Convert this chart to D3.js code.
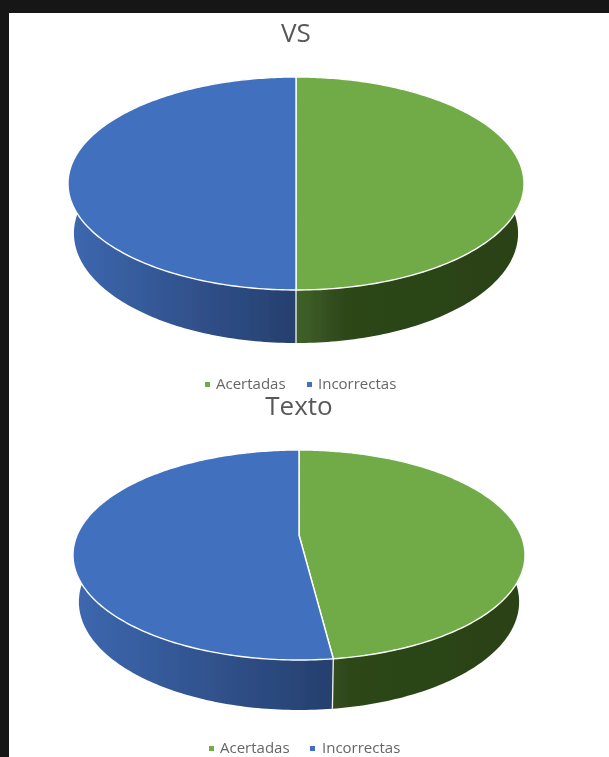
<!DOCTYPE html>
<html>
<head>
<meta charset="utf-8">
<script src="https://cdn.jsdelivr.net/npm/d3@7"></script>
<style>
  html, body { margin: 0; padding: 0; background: #fff; overflow: hidden; }
  text { font-family: "Open Sans", sans-serif; }
</style>
</head>
<body>
<script>
var width = 609;
var height = 757;

// values, percent of answers
var categories = ["Acertadas", "Incorrectas"];
var vsValues = [50, 50];
var textoValues = [48, 52];
var titles = ["VS", "Texto"];

var topColors = ["#6fab47", "#4170be"];
var wallStops = [
  [["0%", "#40622a"], ["22%", "#2d4619"], ["100%", "#2a4216"]],
  [["0%", "#3d68b0"], ["100%", "#263f6e"]]
];

// where each pie sits on the page
var layouts = [
  { cx: 296, rx: 228, top: 77, bottom: 290, apex: 162, depth: 53, titleY: 42, titleX: 296, titleSize: 26,
    legendY: 389, legendX: [216, 318], markX: [205, 307] },
  { cx: 299, rx: 226, top: 450, bottom: 660, apex: 535, depth: 50, titleY: 415, titleX: 299, titleSize: 26,
    legendY: 753, legendX: [220, 322], markX: [209, 310] }
];
// lower rim of the wall against the upper one
var lowerX = 0.974;
var lowerY = 1.03;

var svg = d3.select("body").append("svg")
  .attr("width", width)
  .attr("height", height)
  .style("display", "block");

var defs = svg.append("defs");
defs.append("filter").attr("id", "soft")
  .attr("x", "-5%").attr("y", "-5%").attr("width", "110%").attr("height", "110%")
  .append("feGaussianBlur").attr("stdDeviation", 0.6);

wallStops.forEach(function(stops, i) {
  defs.append("linearGradient").attr("id", "wall" + i)
    .selectAll("stop").data(stops).enter().append("stop")
    .attr("offset", function(d) { return d[0]; })
    .attr("stop-color", function(d) { return d[1]; });
});

// dark frame of the screenshot
svg.append("rect").attr("width", width).attr("height", 13).attr("fill", "#161616");
svg.append("rect").attr("width", 9).attr("height", height).attr("fill", "#161616");

var pie = d3.pie().sort(null);
var line = d3.line();

// rim of a tilted disc seen in perspective, angle runs clockwise from the top
function projector(l) {
  var up = l.apex - l.top, down = l.bottom - l.apex;
  var k = (down - up) / (down + up);
  var b = down * (1 - k);
  var a = l.rx * Math.sqrt(1 - k * k);
  return function(t, sx, sy, dy) {
    var u = Math.sin(t), v = -Math.cos(t), w = 1 - k * v;
    return [l.cx + sx * a * u / w, l.bottom + dy - sy * down + sy * b * v / w];
  };
}

function angles(a0, a1) {
  var n = Math.max(2, Math.ceil((a1 - a0) * 60));
  return d3.range(n + 1).map(function(i) { return a0 + (a1 - a0) * i / n; });
}

function drawPie(values, l, index) {
  var g = svg.append("g").attr("filter", "url(#soft)");
  var rim = projector(l);
  var slices = pie(values);

  // walls first as strips between both rims, the top disc covers their back part
  g.selectAll("path.wall").data(slices).enter().append("path")
    .attr("class", "wall")
    .attr("fill", function(d, i) { return "url(#wall" + i + ")"; })
    .attr("d", function(d) {
      var as = angles(d.startAngle, d.endAngle);
      return d3.pairs(as).map(function(p) {
        return line([rim(p[0], 1, 1, 0), rim(p[1], 1, 1, 0),
                     rim(p[1], lowerX, lowerY, l.depth), rim(p[0], lowerX, lowerY, l.depth)]) + "Z";
      }).join("");
    });

  // seam on the front of the wall
  g.append("path")
    .attr("fill", "none").attr("stroke", "#f2f4f6").attr("stroke-width", 1.3)
    .attr("d", line([rim(slices[0].endAngle, 1, 1, 0), rim(slices[0].endAngle, lowerX, lowerY, l.depth)]));

  g.selectAll("path.top").data(slices).enter().append("path")
    .attr("class", "top")
    .attr("fill", function(d, i) { return topColors[i]; })
    .attr("stroke", "#ffffff").attr("stroke-width", 1.4).attr("stroke-linejoin", "round")
    .attr("d", function(d) {
      var pts = angles(d.startAngle, d.endAngle).map(function(t) { return rim(t, 1, 1, 0); });
      return line([[l.cx, l.apex]].concat(pts)) + "Z";
    });

  var t = svg.append("g").attr("filter", "url(#soft)");
  t.append("text")
    .attr("x", l.titleX).attr("y", l.titleY)
    .attr("text-anchor", "middle")
    .attr("font-size", l.titleSize).attr("fill", "#595959")
    .text(titles[index]);

  var items = t.selectAll("g.item").data(categories).enter().append("g").attr("class", "item");
  items.append("rect")
    .attr("x", function(d, i) { return l.markX[i]; })
    .attr("y", l.legendY - 7).attr("width", 5).attr("height", 5)
    .attr("fill", function(d, i) { return topColors[i]; });
  items.append("text")
    .attr("x", function(d, i) { return l.legendX[i]; })
    .attr("y", l.legendY)
    .attr("font-size", 15).attr("fill", "#666666")
    .text(function(d) { return d; });
}

drawPie(vsValues, layouts[0], 0);
drawPie(textoValues, layouts[1], 1);
</script>
</body>
</html>
